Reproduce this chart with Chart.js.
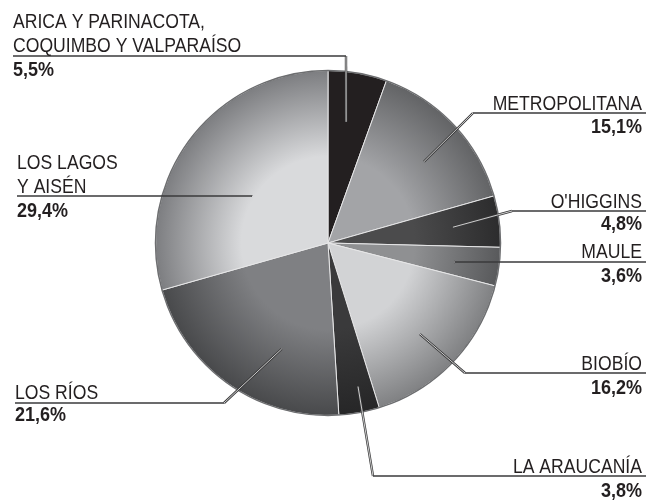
<!DOCTYPE html>
<html>
<head>
<meta charset="utf-8">
<script src="https://cdn.jsdelivr.net/npm/chart.js@4"></script>
<style>
  html, body { margin: 0; padding: 0; background: #fff; }
  #wrap { width: 659px; height: 500px; position: relative; }
</style>
</head>
<body>
<div id="wrap"><canvas id="regionChart"></canvas></div>
<script>
// data
const regions = [
  ['ARICA Y PARINACOTA,', 'COQUIMBO Y VALPARAÍSO'],
  ['METROPOLITANA'],
  ["O'HIGGINS"],
  ['MAULE'],
  ['BIOBÍO'],
  ['LA ARAUCANÍA'],
  ['LOS RÍOS'],
  ['LOS LAGOS', 'Y AISÉN']
];
const shares = [5.5, 15.1, 4.8, 3.6, 16.2, 3.8, 21.6, 29.4];

// slice shading: inner colour, rim colour
const innerColors = ['#231f20', '#a3a4a7', '#4b4b4c', '#8f9092', '#d2d3d5', '#3a3a3b', '#7f8083', '#d9dadc'];
const rimColors   = ['#231f20', '#626365', '#2c2c2d', '#58595b', '#7f8082', '#262627', '#48494b', '#7c7d80'];

// label layout (pixels): text anchor, baselines, underline, elbow, where the leader hits the slice
const labelLayout = [
  { x: 13,  align: 'left',  lines: [28, 52], ul: 56,  ulX: [13, 346],  pct: 76,  elbow: [346, 56],  r: 0.71, along: 0.43 },
  { x: 642, align: 'right', lines: [110],    ul: 113, ulX: [473, 646], pct: 133, elbow: [473, 113], r: 0.73, along: 0.55 },
  { x: 642, align: 'right', lines: [208],    ul: 211, ulX: [512, 646], pct: 230, elbow: [512, 211], r: 0.73, along: 0.5 },
  { x: 642, align: 'right', lines: [258],    ul: 262, ulX: [455, 646], pct: 282, elbow: [455, 262], r: 0.74, along: 0.55 },
  { x: 642, align: 'right', lines: [370],    ul: 373, ulX: [465, 646], pct: 394, elbow: [465, 373], r: 0.75, along: 0.52 },
  { x: 642, align: 'right', lines: [473],    ul: 476, ulX: [373, 646], pct: 497, elbow: [373, 476], r: 0.85, along: 0.4 },
  { x: 15,  align: 'left',  lines: [399],    ul: 403, ulX: [15, 224],  pct: 421, elbow: [224, 403], r: 0.67, along: 0.35 },
  { x: 17,  align: 'left',  lines: [169, 193], ul: 196, ulX: [17, 252], pct: 217, elbow: [252, 196], r: 0.52, along: 0.45 }
];

const FONT = '"Liberation Sans", Arial, sans-serif';

function sliceFill(context) {
  const chart = context.chart;
  const i = context.dataIndex;
  const a = chart.chartArea;
  if (!a || !isFinite(a.left) || a.width <= 0) return innerColors[i];
  const cx = (a.left + a.right) / 2, cy = (a.top + a.bottom) / 2;
  const R = Math.min(a.width, a.height) / 2;
  const g = chart.ctx.createRadialGradient(cx, cy, 0, cx, cy, R);
  g.addColorStop(0, innerColors[i]);
  g.addColorStop(0.5, innerColors[i]);
  g.addColorStop(1, rimColors[i]);
  return g;
}

// condensed look: squeeze the glyphs horizontally
function narrowText(ctx, text, x, y, sx) {
  ctx.save();
  ctx.translate(x, y);
  ctx.scale(sx, 1);
  ctx.fillText(text, 0, 0);
  ctx.restore();
}

const calloutPlugin = {
  id: 'callouts',
  afterDatasetsDraw(chart) {
    const ctx = chart.ctx;
    const arcs = chart.getDatasetMeta(0).data;
    const cx = arcs[0].x, cy = arcs[0].y, R = arcs[0].outerRadius;

    // rim
    ctx.save();
    ctx.beginPath();
    ctx.arc(cx, cy, R, 0, Math.PI * 2);
    ctx.strokeStyle = '#6d6e70';
    ctx.lineWidth = 1.5;
    ctx.stroke();

    arcs.forEach((arc, i) => {
      const L = labelLayout[i];
      const ang = arc.startAngle + (arc.endAngle - arc.startAngle) * L.along;
      const px = cx + Math.cos(ang) * R * L.r;
      const py = cy + Math.sin(ang) * R * L.r;

      // leader: dark line with a light core
      ctx.beginPath();
      ctx.moveTo(L.elbow[0], L.elbow[1]);
      ctx.lineTo(px, py);
      ctx.strokeStyle = '#3a3a3b';
      ctx.lineWidth = 2.4;
      ctx.stroke();
      ctx.strokeStyle = '#f2f2f2';
      ctx.lineWidth = 0.8;
      ctx.stroke();

      // underline
      ctx.beginPath();
      ctx.moveTo(L.ulX[0], L.ul);
      ctx.lineTo(L.ulX[1], L.ul);
      ctx.strokeStyle = '#3a3a3b';
      ctx.lineWidth = 1.3;
      ctx.stroke();

      ctx.fillStyle = '#231f20';
      ctx.textAlign = L.align;
      ctx.textBaseline = 'alphabetic';
      ctx.font = '20px ' + FONT;
      regions[i].forEach((line, k) => narrowText(ctx, line, L.x, L.lines[k], 0.88));
      ctx.font = 'bold 20px ' + FONT;
      narrowText(ctx, shares[i].toFixed(1).replace('.', ',') + '%', L.x, L.pct, 0.9);
    });
    ctx.restore();
  }
};

new Chart(document.getElementById('regionChart'), {
  type: 'pie',
  data: {
    labels: regions.map(r => r.join(' ')),
    datasets: [{
      data: shares,
      backgroundColor: sliceFill,
      borderColor: '#e6e6e7',
      borderWidth: 1
    }]
  },
  options: {
    responsive: true,
    maintainAspectRatio: false,
    animation: false,
    layout: { padding: { left: 155, right: 158, top: 70, bottom: 84 } },
    plugins: {
      legend: { display: false },
      tooltip: { enabled: false }
    }
  },
  plugins: [calloutPlugin]
});
</script>
</body>
</html>
